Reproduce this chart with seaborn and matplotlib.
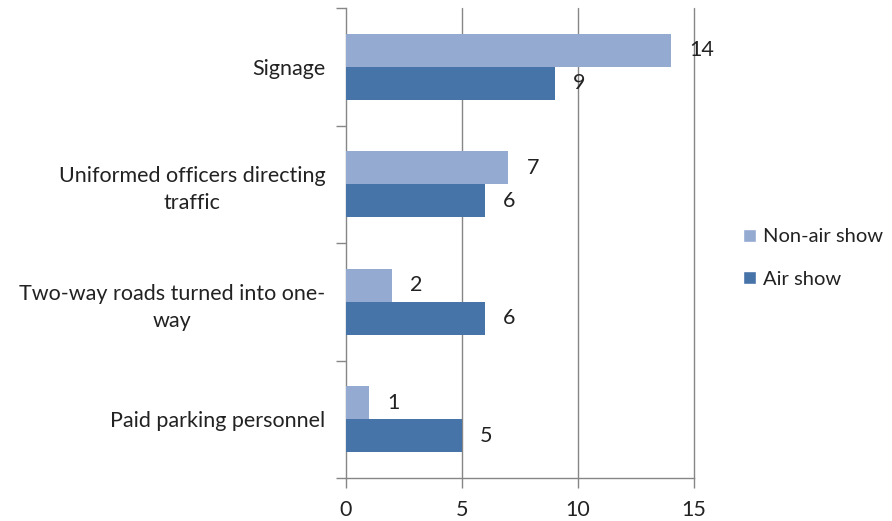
import matplotlib
matplotlib.use("Agg")
import matplotlib.pyplot as plt
import seaborn as sns
import pandas as pd
from matplotlib.patches import Patch

categories = ["Signage", "Uniformed officers directing\ntraffic",
              "Two-way roads turned into one-\nway", "Paid parking personnel"]
series_names = ["Non-air show", "Air show"]
non_air = [14, 7, 2, 1]
air = [9, 6, 6, 5]
x_ticks = [0, 5, 10, 15]

colors = ["#94AAD1", "#4673A8"]

rows = []
for c, v in zip(categories, non_air):
    rows.append({"cat": c, "series": series_names[0], "val": v})
for c, v in zip(categories, air):
    rows.append({"cat": c, "series": series_names[1], "val": v})
df = pd.DataFrame(rows)

sns.set_theme(style="white")
plt.rcParams["font.family"] = ["Lato", "DejaVu Sans"]

FS = 15.5
fig = plt.figure(figsize=(8.92, 5.21), dpi=100)
ax = fig.add_axes([346/892, 1-478/521, 348/892, 470/521])

sns.barplot(data=df, y="cat", x="val", hue="series", order=categories,
            hue_order=series_names, palette=colors, orient="h", width=0.56,
            saturation=1, ax=ax, legend=False, zorder=3, linewidth=0, edgecolor="none")

for cont in ax.containers:
    ax.bar_label(cont, padding=13, fontsize=FS, color="#222222")

ax.set_xlim(0, 15)
ax.set_ylim(3.5, -0.5)
ax.set_xticks(x_ticks)
ax.set_xticklabels([str(t) for t in x_ticks], fontsize=FS, color="#222222")
ax.set_yticks(range(len(categories)))
ax.set_yticklabels(categories, fontsize=FS, color="#222222", multialignment="center",
                   linespacing=1.45)
ax.set_yticks([-0.5, 0.5, 1.5, 2.5, 3.5], minor=True)
ax.tick_params(axis="y", which="major", length=0, pad=15, left=False)
ax.tick_params(axis="y", which="minor", length=7, color="#868686", width=1,
               direction="out", left=True)
ax.tick_params(axis="x", length=7, color="#868686", width=1, direction="out", pad=9,
               bottom=True)
ax.set_xlabel("")
ax.set_ylabel("")

for xv in [5, 10, 15]:
    ax.axvline(xv, color="#868686", lw=1, zorder=1, clip_on=False)

for s in ["top", "right"]:
    ax.spines[s].set_visible(False)
ax.spines["left"].set_color("#868686")
ax.spines["bottom"].set_color("#868686")
ax.spines["left"].set_linewidth(1)
ax.spines["bottom"].set_linewidth(1)
ax.set_facecolor("white")

handles = [Patch(facecolor=colors[0]), Patch(facecolor=colors[1])]
fig.legend(handles, series_names, loc="center left", bbox_to_anchor=(743/892, 1-258/521),
           frameon=False, fontsize=14.5, handlelength=0.65, handleheight=0.65,
           handletextpad=0.35, labelspacing=1.25, labelcolor="#222222",
           borderpad=0, borderaxespad=0)

fig.savefig("out.png", dpi=100, facecolor="white")
